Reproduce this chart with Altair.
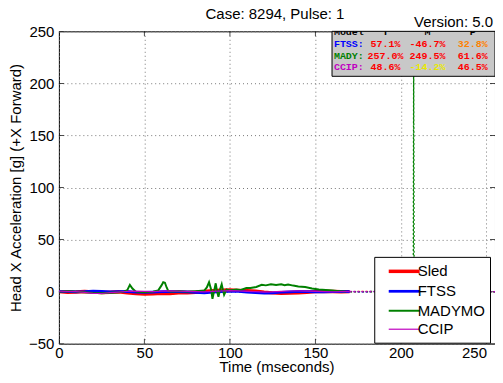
import altair as alt
import pandas as pd

# ---------------- data ----------------
series_names = ["Sled", "FTSS", "MADYMO", "CCIP"]
series_colors = ["#ff0000", "#0000ff", "#008000", "#c000c0"]
series_widths = [3.5, 1.2, 1.2, 1.2]

t_common = [0, 5, 10, 15, 20, 25, 30, 35, 40, 45, 50, 55, 60, 65, 70, 75, 80, 85,
            90, 95, 100, 105, 110, 115, 120, 125, 130, 135, 140, 145, 150, 155, 160, 165, 170]
sled = [0.0, -0.5, -0.3, 0.2, -0.4, -0.8, -0.5, -0.2, -1.0, -1.8, -2.2, -2.0, -1.6, -1.8,
        -1.2, -1.0, -0.6, 0.2, 0.8, 1.4, 1.6, 1.2, 0.8, 0.4, -0.5, -1.2, -1.5, -1.4, -1.0,
        -0.5, 0.0, 0.3, 0.2, -0.2, 0.0]
ftss = [0.3, 0.2, -0.2, 0.0, 0.4, 0.2, -0.3, 0.0, 0.2, -0.6, -0.8, -0.4, 0.1, 0.3, 0.0,
        -0.3, -0.8, -1.2, -0.6, 0.0, 0.4, 0.2, -0.4, -1.0, -1.4, -1.2, -0.6, -0.2, 0.2, 0.0,
        -0.3, -0.2, 0.1, 0.0, 0.0]
ccip = [0.5, 0.3, 0.0, -0.8, -1.6, -1.8, -1.0, -0.4, 0.2, 0.5, 0.3, 0.0, 0.4, 0.8, 0.5,
        0.2, 0.0, -0.3, 0.2, 0.6, 0.9, 0.7, 0.3, 0.0, -0.4, -0.2, 0.3, 0.6, 0.8, 0.5, 0.2,
        0.0, -0.2, 0.0, 0.0]

t_mady = [0, 5, 10, 15, 20, 25, 30, 35, 38, 40, 41.5, 43, 45, 50, 55, 58, 60, 61, 62, 63,
          64, 66, 70, 75, 80, 85, 86.5, 87.8, 89, 89.8, 90.8, 91.7, 92.5, 93.3, 94.2, 95.2,
          96, 96.6, 98, 100, 103.8, 106, 109.6, 112, 115.4, 118.6, 121, 124, 127, 130, 132,
          134, 137, 140, 144, 148, 152, 156, 160, 164, 168]
mady = [0.0, 0.5, 0.0, -0.5, -1.2, -1.5, -1.0, -0.5, 0.0, 1.5, 6.5, 3.0, 0.0, -0.5, 0.0,
        1.0, 6.0, 9.0, 8.5, 4.0, 0.5, 0.0, 0.5, 0.0, 0.5, 1.0, 4.0, 9.0, 2.0, -7.0, 1.0, 8.0,
        0.0, -5.0, 2.0, 7.0, 1.0, -3.0, 2.0, 1.0, 2.0, 1.5, 3.5, 3.5, 4.5, 6.5, 6.0, 7.0, 6.3,
        7.0, 6.2, 6.8, 5.8, 5.0, 4.5, 3.0, 2.0, 1.5, 1.0, 0.5, 0.0]

# dotted continuations after the solid traces
t_tail = [170, 178, 186, 194, 202, 210, 218, 226, 234, 242, 250, 255]
sled_tail = [0.0, 0.2, -0.1, 0.0, 0.1, 0.0, -0.1, 0.0, 0.1, 0.0, 0.0, 0.0]
ftss_tail = [0.0, -0.2, 0.0, 0.1, -0.1, 0.0, 0.1, -0.2, 0.0, 0.1, 0.0, 0.0]
ccip_tail = [0.2, 0.0, 0.3, 0.1, 0.0, 0.2, 0.1, 0.0, 0.2, 0.1, 0.0, 0.0]
t_mady_tail = [168, 176, 186, 196, 204, 207.2, 207.45, 207.7, 212, 222, 235, 255]
mady_tail = [0.0, 0.0, 0.2, 0.0, 0.0, 0.0, 250.0, 0.0, 0.0, 0.0, -0.5, 0.0]

# error table
table_models = ["FTSS:", "MADY:", "CCIP:"]
table_T = ["57.1%", "257.0%", "48.6%"]
table_M = ["-46.7%", "249.5%", "-14.2%"]
table_P = ["32.8%", "61.6%", "46.5%"]
table_label_colors = ["#0000ff", "#008000", "#c000c0"]
table_T_colors = ["#ff0000", "#ff0000", "#ff0000"]
table_M_colors = ["#ff0000", "#ff0000", "#e8e800"]
table_P_colors = ["#ff8000", "#ff0000", "#ff0000"]
table_header = ["Model", "T", "M", "P"]

x_ticks = [0, 50, 100, 150, 200, 250]
y_ticks = [-50, 0, 50, 100, 150, 200, 250]

title_text = "Case: 8294, Pulse: 1"
version_text = "Version: 5.0"
x_title = "Time (mseconds)"
y_title = "Head X Acceleration [g] (+X Forward)"

# ---------------- layout ----------------
W, H = 437, 313
X_DOM, Y_DOM = [0, 255], [-50, 250]
FONT = "Liberation Sans"
MONO = "Liberation Mono"
BOX = dict(t0=159.7, t1=255, g0=206.8, g1=250)
COL_T = [160.8, 191.0, 215.5, 242.0]   # label(left), T, M, P centers
ROW_G = [249.2, 238.2, 226.5, 216.0]   # header, FTSS, MADY, CCIP

solid = pd.concat([
    pd.DataFrame({"t": t_common, "g": sled, "series": "Sled"}),
    pd.DataFrame({"t": t_common, "g": ftss, "series": "FTSS"}),
    pd.DataFrame({"t": t_mady, "g": mady, "series": "MADYMO"}),
    pd.DataFrame({"t": t_common, "g": ccip, "series": "CCIP"}),
])
tails = {
    "Sled": pd.DataFrame({"t": t_tail, "g": sled_tail}),
    "FTSS": pd.DataFrame({"t": t_tail, "g": ftss_tail}),
    "MADYMO": pd.DataFrame({"t": t_mady_tail, "g": mady_tail}),
    "CCIP": pd.DataFrame({"t": t_tail, "g": ccip_tail}),
}

xscale = alt.Scale(domain=X_DOM, nice=False, zero=False)
yscale = alt.Scale(domain=Y_DOM, nice=False, zero=False)
xenc = alt.X("t:Q", scale=xscale,
             axis=alt.Axis(values=x_ticks, title=None, labelPadding=2,
                           labelAlign={"condition": {"test": "datum.value == 250",
                                                     "value": "right"},
                                       "value": "center"}))
yenc = alt.Y("g:Q", scale=yscale,
             axis=alt.Axis(values=y_ticks, title=y_title, labelPadding=5, titlePadding=5))

legend = alt.Legend(
    title=None, orient="none", legendX=316, legendY=226,
    symbolType="M-2,0H2", symbolSize=240, symbolOffset=15.5, labelOffset=4,
    labelFont=FONT, labelFontSize=15, labelColor="black",
    strokeColor="black", fillColor="white", padding=5, rowPadding=2,
)
color = alt.Color("series:N", scale=alt.Scale(domain=series_names, range=series_colors),
                  legend=legend)
swidth = alt.StrokeWidth("series:N", scale=alt.Scale(domain=series_names, range=series_widths),
                         legend=legend)

layers = []

# inward tick marks on all four sides of the box
xt = pd.DataFrame({"t": x_ticks})
yt = pd.DataFrame({"g": y_ticks})
for gv in Y_DOM:
    layers.append(alt.Chart(xt).mark_tick(orient="vertical", size=10, thickness=1,
                                          color="black", clip=True)
                  .encode(x=alt.X("t:Q", scale=xscale), y=alt.datum(gv)))
for tv in X_DOM:
    layers.append(alt.Chart(yt).mark_tick(orient="horizontal", size=10, thickness=1,
                                          color="black", clip=True)
                  .encode(y=alt.Y("g:Q", scale=yscale), x=alt.datum(tv)))

for name, col in zip(series_names, series_colors):
    layers.append(alt.Chart(tails[name]).mark_line(strokeWidth=1.3, strokeDash=[2, 2],
                                                    color=col, clip=True)
                  .encode(x=xenc, y=yenc))
for name in series_names:
    layers.append(alt.Chart(solid).transform_filter(alt.datum.series == name)
                  .mark_line(clip=True)
                  .encode(x=xenc, y=yenc, color=color, strokeWidth=swidth))

box_df = pd.DataFrame({"t": [BOX["t0"]], "t2": [BOX["t1"]], "g": [BOX["g0"]], "g2": [BOX["g1"]]})
layers.append(alt.Chart(box_df).mark_rect(fill="#c8c8c8", stroke="black", strokeWidth=1)
              .encode(x=xenc, x2="t2:Q", y=yenc, y2="g2:Q"))

cells = []
for j, h in enumerate(table_header):
    cells.append({"t": COL_T[j], "g": ROW_G[0], "txt": h, "c": "#000000",
                  "a": "left" if j == 0 else "center"})
cols = [table_models, table_T, table_M, table_P]
ccols = [table_label_colors, table_T_colors, table_M_colors, table_P_colors]
for i in range(3):
    for j in range(4):
        cells.append({"t": COL_T[j], "g": ROW_G[i + 1], "txt": cols[j][i], "c": ccols[j][i],
                      "a": "left" if j == 0 else "center"})
cells_df = pd.DataFrame(cells)
for a in ["left", "center"]:
    layers.append(alt.Chart(cells_df).transform_filter(alt.datum.a == a)
                  .mark_text(font=MONO, fontSize=10, fontWeight="bold", align=a,
                             baseline="middle", clip=True)
                  .encode(x=xenc, y=yenc, text="txt:N",
                          color=alt.Color("c:N", scale=None, legend=None)))

# chart title, version tag and x-axis title as text marks placed around the frame
layers.append(alt.Chart(pd.DataFrame({"v": [title_text]}))
              .mark_text(font=FONT, fontSize=15, align="center", baseline="alphabetic",
                         color="black")
              .encode(x=alt.value(W / 2 - 2), y=alt.value(-12), text="v:N"))
layers.append(alt.Chart(pd.DataFrame({"v": [version_text]}))
              .mark_text(font=FONT, fontSize=15, align="right", baseline="bottom", color="black")
              .encode(x=alt.value(W - 2), y=alt.value(-1), text="v:N"))
layers.append(alt.Chart(pd.DataFrame({"v": [x_title]}))
              .mark_text(font=FONT, fontSize=15, align="center", baseline="alphabetic",
                         color="black")
              .encode(x=alt.value(W / 2), y=alt.value(H + 28), text="v:N"))

chart = (alt.layer(*layers)
         .properties(width=W, height=H,
                     autosize=alt.AutoSizeParams(type="none"),
                     padding={"left": 51, "top": 23, "right": 0, "bottom": 31},
                     background="white")
         .configure_view(stroke="black", strokeWidth=1)
         .configure_axis(grid=True, gridColor="#777777", gridDash=[1, 3], gridWidth=1,
                         domain=False, ticks=False, labelFont=FONT, labelFontSize=15,
                         labelColor="black", titleFont=FONT, titleFontSize=15,
                         titleFontWeight="normal", titleColor="black"))

chart.save("out.html", embed_options={"renderer": "svg", "actions": False})
